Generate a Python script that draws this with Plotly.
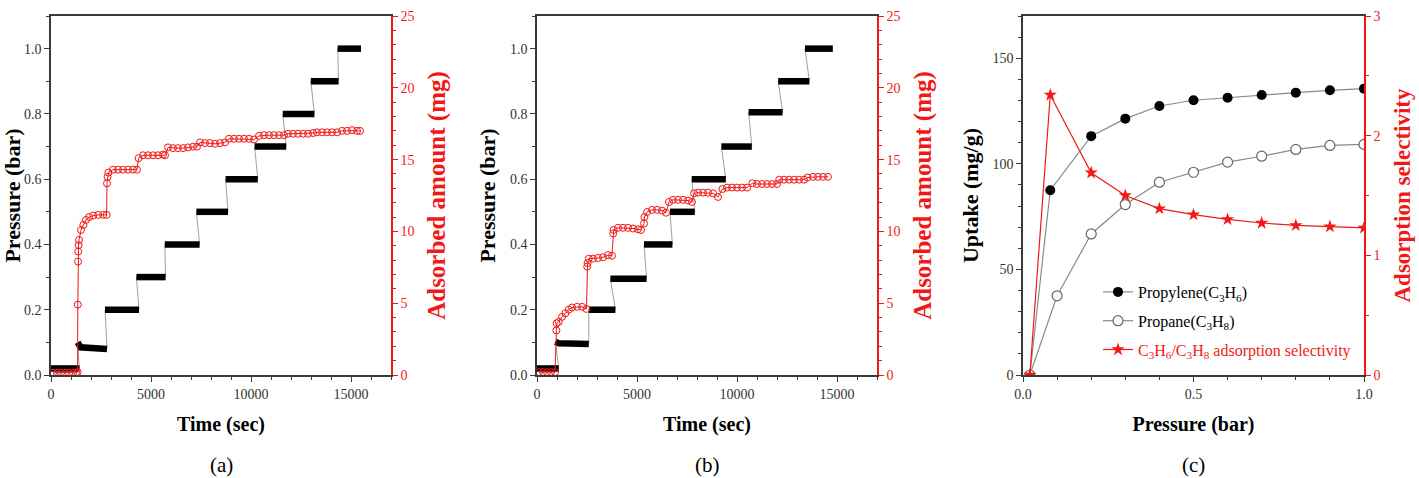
import plotly.graph_objects as go

FONT = "Liberation Serif"
RED = "#f21818"
AX = "#3a3a3a"

# ---------------- Panel (a) ----------------
# pressure steps (time in s, pressure in bar); one list per pressure step
pa_steps_t = [[0, 1420], [1330, 1480, 2800], [2700, 4400], [4270, 5730], [5690, 7430],
              [7270, 8850], [8730, 10340], [10180, 11760], [11590, 13170], [12990, 14380],
              [14330, 15500]]
pa_steps_p = [[0.02, 0.02], [0.10, 0.085, 0.08], [0.20, 0.20], [0.30, 0.30], [0.40, 0.40],
              [0.50, 0.50], [0.60, 0.60], [0.70, 0.70], [0.80, 0.80], [0.90, 0.90],
              [1.00, 1.00]]
# adsorbed amount (mg)
ma_t = [100, 300, 500, 700, 900, 1100, 1250,
        1330, 1340, 1350, 1360, 1380, 1400, 1500, 1620, 1750, 1910, 2110, 2360, 2610, 2780,
        2800, 2830, 2870, 3100, 3350, 3600, 3850, 4100, 4300,
        4380, 4600, 4850, 5100, 5350, 5600, 5700,
        5850, 6100, 6350, 6600, 6850, 7100, 7300,
        7450, 7700, 7950, 8200, 8450, 8700,
        8900, 9150, 9400, 9650, 9900, 10150,
        10400, 10650, 10900, 11150, 11400, 11650,
        11850, 12100, 12350, 12600, 12850, 13100,
        13300, 13550, 13800, 14050, 14300,
        14550, 14800, 15050, 15300, 15450]
ma_m = [0.15, 0.15, 0.15, 0.15, 0.15, 0.15, 0.15,
        0.2, 4.9, 7.9, 8.6, 9.05, 9.4, 10.1, 10.45, 10.8, 11.0, 11.1, 11.15, 11.15, 11.15,
        13.35, 13.8, 14.1, 14.3, 14.3, 14.3, 14.3, 14.3, 14.3,
        15.1, 15.3, 15.3, 15.3, 15.3, 15.35, 15.3,
        15.85, 15.8, 15.8, 15.8, 15.85, 15.9, 15.9,
        16.2, 16.15, 16.15, 16.1, 16.15, 16.2,
        16.45, 16.45, 16.45, 16.45, 16.45, 16.4,
        16.65, 16.7, 16.7, 16.7, 16.7, 16.7,
        16.8, 16.8, 16.8, 16.8, 16.8, 16.85,
        16.9, 16.9, 16.9, 16.9, 16.9,
        17.0, 17.0, 17.05, 17.0, 17.0]

# ---------------- Panel (b) ----------------
pb_steps_t = [[0, 1085], [920, 1100, 2590], [2590, 3920], [3670, 5480], [5350, 6770],
              [6650, 7890], [7740, 9440], [9220, 10740], [10580, 12280], [12060, 13620],
              [13400, 14790]]
pb_steps_p = [[0.02, 0.02], [0.102, 0.097, 0.095], [0.20, 0.20], [0.295, 0.295], [0.40, 0.40],
              [0.50, 0.50], [0.60, 0.60], [0.70, 0.70], [0.805, 0.805], [0.90, 0.90],
              [1.00, 1.00]]
mb_t = [100, 300, 500, 700, 900,
        970, 980, 1085, 1252, 1420, 1587, 1754, 2005, 2256, 2473,
        2510, 2530, 2590, 2800, 3050, 3300, 3550, 3750,
        3810, 3830, 4050, 4300, 4550, 4800, 5050, 5200,
        5350, 5370, 5500, 5750, 6000, 6250, 6450,
        6600, 6800, 7050, 7300, 7550, 7750,
        7850, 8050, 8300, 8550, 8800, 9050,
        9270, 9500, 9750, 10000, 10250, 10500,
        10770, 11000, 11250, 11500, 11750, 12000,
        12110, 12350, 12600, 12850, 13100, 13350,
        13530, 13800, 14050, 14300, 14550]
mb_m = [0.2, 0.2, 0.2, 0.2, 0.2,
        3.1, 3.6, 3.7, 4.05, 4.3, 4.55, 4.7, 4.75, 4.75, 4.6,
        7.55, 7.8, 8.1, 8.1, 8.15, 8.2, 8.35, 8.3,
        9.85, 10.1, 10.25, 10.25, 10.25, 10.2, 10.15, 10.1,
        10.55, 11.0, 11.35, 11.5, 11.5, 11.45, 11.3,
        12.05, 12.2, 12.2, 12.2, 12.15, 12.05,
        12.65, 12.7, 12.7, 12.7, 12.65, 12.4,
        12.95, 13.05, 13.05, 13.05, 13.05, 13.05,
        13.35, 13.3, 13.3, 13.3, 13.3, 13.3,
        13.6, 13.6, 13.6, 13.6, 13.6, 13.6,
        13.75, 13.8, 13.8, 13.8, 13.8]

# ---------------- Panel (c) ----------------
c_p_propylene = [0.02, 0.08, 0.2, 0.3, 0.4, 0.5, 0.6, 0.7, 0.8, 0.9, 1.0]
c_propylene = [0, 87.5, 113.1, 121.4, 127.4, 130.1, 131.3, 132.6, 133.7, 134.8, 135.6]
c_p_propane = [0.02, 0.1, 0.2, 0.3, 0.4, 0.5, 0.6, 0.7, 0.8, 0.9, 1.0]
c_propane = [0, 37.5, 66.8, 80.7, 91.3, 96.0, 100.8, 103.6, 106.8, 108.7, 109.2]
c_p_sel = [0.02, 0.08, 0.2, 0.3, 0.4, 0.5, 0.6, 0.7, 0.8, 0.9, 1.0]
c_sel = [0, 2.34, 1.69, 1.50, 1.39, 1.34, 1.30, 1.27, 1.25, 1.24, 1.23]

captions = ["(a)", "(b)", "(c)"]

W, H = 1419, 478
dom_a = [51 / W, 391 / W]
dom_b = [537 / W, 877 / W]
dom_c = [1023 / W, 1364 / W]
dom_y = [103 / H, 462 / H]

fig = go.Figure()


def step_traces(ts, ps, xa, ya):
    # thin gray connector through all recorded points
    cx, cy = [], []
    for t, p in zip(ts, ps):
        cx += t
        cy += p
    fig.add_trace(go.Scatter(x=cx, y=cy, mode="lines", xaxis=xa, yaxis=ya,
                             line=dict(color="#a0a0a0", width=1), showlegend=False,
                             hoverinfo="skip"))
    # thick black plateaus (densely recorded points)
    bx, by = [], []
    for t, p in zip(ts, ps):
        bx += t + [None]
        by += p + [None]
    fig.add_trace(go.Scatter(x=bx, y=by, mode="lines", xaxis=xa, yaxis=ya,
                             line=dict(color="black", width=6.5), showlegend=False))


step_traces(pa_steps_t, pa_steps_p, "x", "y")
fig.add_trace(go.Scatter(x=ma_t, y=ma_m, mode="lines+markers", xaxis="x", yaxis="y2",
                         line=dict(color=RED, width=1),
                         marker=dict(symbol="circle-open", size=7, color=RED, line=dict(width=1)),
                         showlegend=False))

step_traces(pb_steps_t, pb_steps_p, "x2", "y3")
fig.add_trace(go.Scatter(x=mb_t, y=mb_m, mode="lines+markers", xaxis="x2", yaxis="y4",
                         line=dict(color=RED, width=1),
                         marker=dict(symbol="circle-open", size=7, color=RED, line=dict(width=1)),
                         showlegend=False))

fig.add_trace(go.Scatter(x=c_p_propylene, y=c_propylene, mode="lines+markers", xaxis="x3", yaxis="y5",
                         name="Propylene(C<sub>3</sub>H<sub>6</sub>)", legendgroup="g1",
                         line=dict(color="#8a8a8a", width=1.2),
                         marker=dict(symbol="circle", size=10, color="black")))
fig.add_trace(go.Scatter(x=c_p_propane, y=c_propane, mode="lines+markers", xaxis="x3", yaxis="y5",
                         name="Propane(C<sub>3</sub>H<sub>8</sub>)", legendgroup="g2",
                         line=dict(color="#8a8a8a", width=1.2),
                         marker=dict(symbol="circle", size=10, color="white",
                                     line=dict(color="#666666", width=1.2))))
fig.add_trace(go.Scatter(x=c_p_sel, y=c_sel, mode="lines+markers", xaxis="x3", yaxis="y6",
                         name="<span style='color:%s'>C<sub>3</sub>H<sub>6</sub>/C<sub>3</sub>H<sub>8</sub> adsorption selectivity</span>" % RED,
                         legendgroup="g3",
                         line=dict(color=RED, width=1.2),
                         marker=dict(symbol="star", size=10, color=RED)))

tickfont = dict(family=FONT, size=14, color="#333333")
redtick = dict(family=FONT, size=14, color=RED)
xtitlefont = dict(family=FONT, size=20, color="black")
ytitlefont = dict(family=FONT, size=22, color="black")


def xax(dom, rng, dtick, mdtick, title, anchor, fmt):
    return dict(domain=dom, range=rng, anchor=anchor, dtick=dtick, tick0=0, tickformat=fmt,
                automargin=False,
                showline=True, linecolor=AX, linewidth=1.5, mirror=True,
                ticks="outside", ticklen=5, tickwidth=1.2, tickcolor=AX,
                minor=dict(dtick=mdtick, ticks="outside", ticklen=3, tickcolor=AX),
                showgrid=False, zeroline=False, tickfont=tickfont,
                title=dict(text="<b>%s</b>" % title, font=xtitlefont, standoff=16))


def yax(dom, rng, dtick, mdtick, title, anchor, fmt=None):
    d = dict(domain=dom, range=rng, anchor=anchor, dtick=dtick, tick0=0, automargin=False,
             showline=True, linecolor=AX, linewidth=1.5,
             ticks="outside", ticklen=5, tickwidth=1.2, tickcolor=AX,
             minor=dict(dtick=mdtick, ticks="outside", ticklen=3, tickcolor=AX),
             showgrid=False, zeroline=False, tickfont=tickfont,
             title=dict(text="<b>%s</b>" % title, font=ytitlefont, standoff=8))
    if fmt:
        d["tickformat"] = fmt
    return d


def ry(rng, dtick, mdtick, title, anchor, over, size):
    return dict(range=rng, anchor=anchor, overlaying=over, side="right", dtick=dtick, tick0=0,
                automargin=False,
                showline=True, linecolor=RED, linewidth=1.5,
                ticks="outside", ticklen=5, tickwidth=1.2, tickcolor=RED,
                minor=dict(dtick=mdtick, ticks="outside", ticklen=3, tickcolor=RED),
                showgrid=False, zeroline=False, tickfont=redtick,
                title=dict(text="<b>%s</b>" % title, font=dict(family=FONT, size=size, color=RED),
                           standoff=14))


fig.update_layout(
    width=W, height=H, margin=dict(l=0, r=0, t=0, b=0, autoexpand=False),
    paper_bgcolor="white", plot_bgcolor="white",
    font=dict(family=FONT),
    xaxis=xax(dom_a, [0, 17000], 5000, 1000, "Time (sec)", "y", "d"),
    yaxis=yax(dom_y, [0, 1.1], 0.2, 0.1, "Pressure (bar)", "x", ".1f"),
    yaxis2=ry([0, 25], 5, 1, "Adsorbed amount (mg)", "x", "y", 25),
    xaxis2=xax(dom_b, [0, 17000], 5000, 1000, "Time (sec)", "y3", "d"),
    yaxis3=yax(dom_y, [0, 1.1], 0.2, 0.1, "Pressure (bar)", "x2", ".1f"),
    yaxis4=ry([0, 25], 5, 1, "Adsorbed amount (mg)", "x2", "y3", 25),
    xaxis3=xax(dom_c, [0, 1.0], 0.5, 0.1, "Pressure (bar)", "y5", ".1f"),
    yaxis5=yax(dom_y, [0, 170], 50, 10, "Uptake (mg/g)", "x3"),
    yaxis6=ry([0, 3], 1, 0.5, "Adsorption selectivity", "x3", "y5", 23),
    legend=dict(x=1098 / W, y=1 - 275 / H, xanchor="left", yanchor="top",
                bgcolor="rgba(0,0,0,0)", font=dict(family=FONT, size=16, color="black"),
                itemwidth=30, traceorder="grouped", tracegroupgap=5),
)

for cap, dom in zip(captions, [dom_a, dom_b, dom_c]):
    fig.add_annotation(text=cap, xref="paper", yref="paper", x=(dom[0] + dom[1]) / 2,
                       y=1 - 465 / H, showarrow=False, font=dict(family=FONT, size=21, color="black"),
                       xanchor="center", yanchor="middle")

fig.write_html("out.html")
